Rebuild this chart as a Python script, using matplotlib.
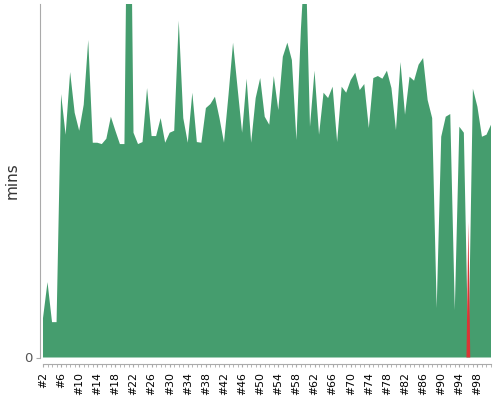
import numpy as np
import matplotlib
matplotlib.use('Agg')
import matplotlib.pyplot as plt
from matplotlib.ticker import MultipleLocator, FixedLocator

# Build numbers #2 .. #101
builds = np.arange(2, 102)

# Build durations of successful builds, in seconds (0 = not successful)
success_s = [
    5.9, 11.3, 5.3, 5.3, 39.5, 33.4, 42.8, 36.7, 34.0, 37.9,    # 2-11
    47.6, 32.2, 32.2, 32.0, 32.8, 36.1, 34.0, 32.0, 32.0, 95.6,  # 12-21
    33.7, 32.0, 32.3, 40.4, 33.2, 33.2, 35.9, 32.2, 33.7, 34.0,  # 22-31
    50.5, 35.9, 32.2, 39.7, 32.3, 32.2, 37.4, 38.0, 39.1, 35.9,  # 32-41
    32.2, 39.4, 47.2, 40.4, 33.7, 41.8, 32.2, 38.9, 41.9, 36.1,  # 42-51
    34.9, 42.2, 37.1, 45.1, 47.2, 44.6, 32.6, 49.3, 61.3, 34.6,  # 52-61
    43.0, 33.4, 39.7, 38.9, 40.6, 32.3, 40.6, 39.7, 41.6, 42.7,  # 62-71
    40.1, 41.0, 34.4, 41.9, 42.2, 41.8, 43.0, 40.4, 34.1, 44.3,  # 72-81
    36.4, 42.1, 41.5, 43.9, 44.9, 38.6, 35.9, 7.4, 33.1, 36.1,   # 82-91
    36.5, 7.1, 34.6, 33.7, 0.0, 40.3, 37.6, 33.1, 33.4, 34.9,    # 92-101
]

# Failed builds, in seconds
failed_s = [0.0] * len(builds)
failed_s[96 - 2] = 20.3

success = np.array(success_s) / 60.0
failed = np.array(failed_s) / 60.0

green = '#459d6e'
red = '#d93636'
grey = '#aaaaaa'

fig = plt.figure(figsize=(5, 4), dpi=100)
ax = fig.add_axes([39.5 / 500, 1 - 357.5 / 400, (491 - 39.5) / 500, (357.5 - 4) / 400])

ax.fill_between(builds, 0, success, color=green, linewidth=0)

# failed builds as thin spikes
for b, v in zip(builds, failed):
    if v > 0:
        ax.fill([b - 0.42, b, b + 0.42], [0, v, 0], color=red, linewidth=0)

ax.set_xlim(1.23, 101)
ax.set_ylim(0, 53.0 / 60.0)

# axes styling
for s in ['top', 'right']:
    ax.spines[s].set_visible(False)
ax.spines['left'].set_color(grey)
ax.spines['bottom'].set_color(grey)
ax.spines['bottom'].set_position(('outward', 5))
ax.spines['bottom'].set_bounds(2, 101)

ax.set_yticks([0])
ax.set_yticklabels(['0'], fontsize=9.5, color='#555555')
ax.tick_params(axis='y', length=3, color=grey, pad=2)

ax.xaxis.set_major_locator(FixedLocator(builds[::4]))
ax.set_xticklabels(['#%d' % b for b in builds[::4]], rotation=90, fontsize=7.8)
ax.xaxis.set_minor_locator(MultipleLocator(1))
ax.tick_params(axis='x', which='both', length=2.5, color=grey, pad=3)

ax.set_ylabel('mins', fontsize=11, color='#333333')
ax.yaxis.set_label_coords(-0.044, 0.5)

fig.savefig('out.png', dpi=100)
